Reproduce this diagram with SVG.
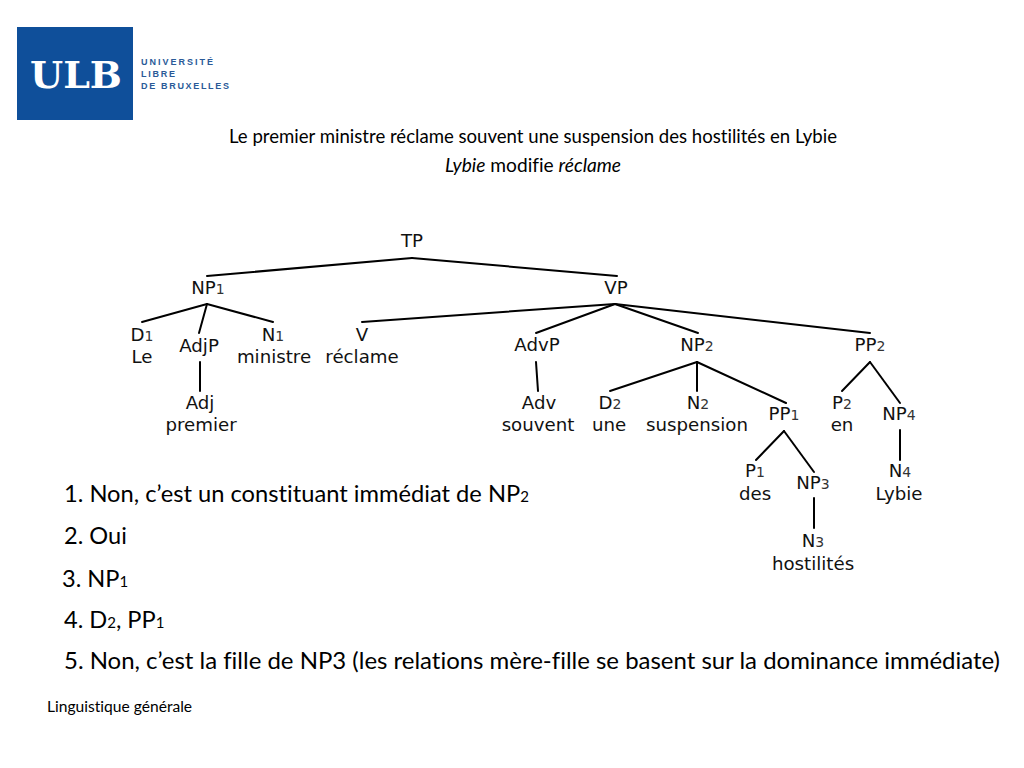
<svg xmlns="http://www.w3.org/2000/svg" width="1024" height="768" viewBox="0 0 1024 768">
<style>
.t{font-family:"DejaVu Sans","Liberation Sans",sans-serif;font-size:18.2px;fill:#111;text-anchor:middle}
.s{font-size:14px;fill:#333}
.b{font-family:Lato,"Noto Sans",sans-serif;font-size:23.6px;fill:#000;font-variant-ligatures:none}
.h{font-family:Lato,"Noto Sans",sans-serif;font-size:18.4px;fill:#000;font-variant-ligatures:none}
.f{font-family:Lato,"Noto Sans",sans-serif;font-size:15.6px;fill:#000;font-variant-ligatures:none}
.u{font-size:15px}
.l{font-family:"Liberation Sans",sans-serif;font-size:9px;font-weight:bold;fill:#2a5a98}
#connectors line{stroke:#000;stroke-width:2;stroke-linecap:round}
</style>
<rect width="1024" height="768" fill="#fff"/>
<g id="logo">
<rect x="17" y="27" width="116" height="93" fill="#0f4f9a"/>
<text x="30" y="88" textLength="92" lengthAdjust="spacingAndGlyphs" font-family="DejaVu Serif,serif" font-weight="bold" font-size="38" fill="#fff">ULB</text>
<text class="l" x="141" y="65" textLength="72">UNIVERSITÉ</text>
<text class="l" x="141" y="77" textLength="34">LIBRE</text>
<text class="l" x="141" y="89" textLength="88">DE BRUXELLES</text>
</g>
<g id="heading">
<text class="h" x="229" y="143" textLength="608" lengthAdjust="spacingAndGlyphs">Le premier ministre réclame souvent une suspension des hostilités en Lybie</text>
<text class="h" x="445" y="172" textLength="176" lengthAdjust="spacingAndGlyphs"><tspan font-style="italic">Lybie</tspan> modifie <tspan font-style="italic">réclame</tspan></text>
</g>
<g id="connectors">
<line x1="412" y1="258" x2="207" y2="276"/><line x1="412" y1="258" x2="617" y2="276"/>
<line x1="207" y1="304" x2="142" y2="322"/><line x1="207" y1="304" x2="199" y2="333"/><line x1="207" y1="304" x2="273" y2="322"/>
<line x1="200" y1="362" x2="200" y2="391"/>
<line x1="615" y1="304" x2="362" y2="322"/><line x1="615" y1="304" x2="536" y2="333"/><line x1="615" y1="304" x2="698" y2="333"/><line x1="615" y1="304" x2="870" y2="333"/>
<line x1="536" y1="362" x2="538" y2="391"/>
<line x1="697" y1="362" x2="610" y2="391"/><line x1="697" y1="362" x2="697" y2="391"/><line x1="697" y1="362" x2="786" y2="403"/>
<line x1="784" y1="431" x2="756" y2="460"/><line x1="784" y1="431" x2="814" y2="472"/>
<line x1="814" y1="498" x2="814" y2="528"/>
<line x1="870" y1="362" x2="842" y2="391"/><line x1="870" y1="362" x2="900" y2="403"/>
<line x1="900" y1="430" x2="900" y2="460"/>
</g>
<g id="TP"><text class="t" x="412" y="247">TP</text></g>
<g id="NP1"><text class="t" x="208" y="294">NP<tspan class="s">1</tspan></text></g>
<g id="VP"><text class="t" x="616" y="294">VP</text></g>
<g id="D1"><text class="t" x="142" y="341">D<tspan class="s">1</tspan></text><text class="t" x="142" y="363">Le</text></g>
<g id="AdjP"><text class="t" x="199" y="352">AdjP</text></g>
<g id="Adj"><text class="t" x="200" y="409">Adj</text><text class="t" x="201" y="431">premier</text></g>
<g id="N1"><text class="t" x="273" y="341">N<tspan class="s">1</tspan></text><text class="t" x="274" y="363">ministre</text></g>
<g id="V"><text class="t" x="362" y="341">V</text><text class="t" x="362" y="363">réclame</text></g>
<g id="AdvP"><text class="t" x="537" y="351">AdvP</text></g>
<g id="Adv"><text class="t" x="539" y="409">Adv</text><text class="t" x="538" y="431">souvent</text></g>
<g id="NP2"><text class="t" x="697" y="351">NP<tspan class="s">2</tspan></text></g>
<g id="D2"><text class="t" x="610" y="409">D<tspan class="s">2</tspan></text><text class="t" x="609" y="431">une</text></g>
<g id="N2"><text class="t" x="698" y="409">N<tspan class="s">2</tspan></text><text class="t" x="697" y="431">suspension</text></g>
<g id="PP1"><text class="t" x="784" y="420">PP<tspan class="s">1</tspan></text></g>
<g id="P1"><text class="t" x="755" y="477">P<tspan class="s">1</tspan></text><text class="t" x="755" y="500">des</text></g>
<g id="NP3"><text class="t" x="813" y="489">NP<tspan class="s">3</tspan></text></g>
<g id="N3"><text class="t" x="813" y="547">N<tspan class="s">3</tspan></text><text class="t" x="813" y="570">hostilités</text></g>
<g id="PP2"><text class="t" x="870" y="351">PP<tspan class="s">2</tspan></text></g>
<g id="P2"><text class="t" x="842" y="409">P<tspan class="s">2</tspan></text><text class="t" x="842" y="431">en</text></g>
<g id="NP4"><text class="t" x="899" y="420">NP<tspan class="s">4</tspan></text></g>
<g id="N4"><text class="t" x="900" y="477">N<tspan class="s">4</tspan></text><text class="t" x="899" y="500">Lybie</text></g>
<g id="answers">
<text class="b" x="64" y="502" textLength="465" lengthAdjust="spacingAndGlyphs">1. Non, c’est un constituant immédiat de NP<tspan class="u">2</tspan></text>
<text class="b" x="64" y="544">2. Oui</text>
<text class="b" x="62" y="587">3. NP<tspan class="u">1</tspan></text>
<text class="b" x="64" y="628">4. D<tspan class="u">2</tspan>, PP<tspan class="u">1</tspan></text>
<text class="b" x="64" y="669" textLength="936" lengthAdjust="spacingAndGlyphs">5. Non, c’est la fille de NP3 (les relations mère-fille se basent sur la dominance immédiate)</text>
</g>
<g id="footer"><text class="f" x="47" y="712">Linguistique générale</text></g>
</svg>
